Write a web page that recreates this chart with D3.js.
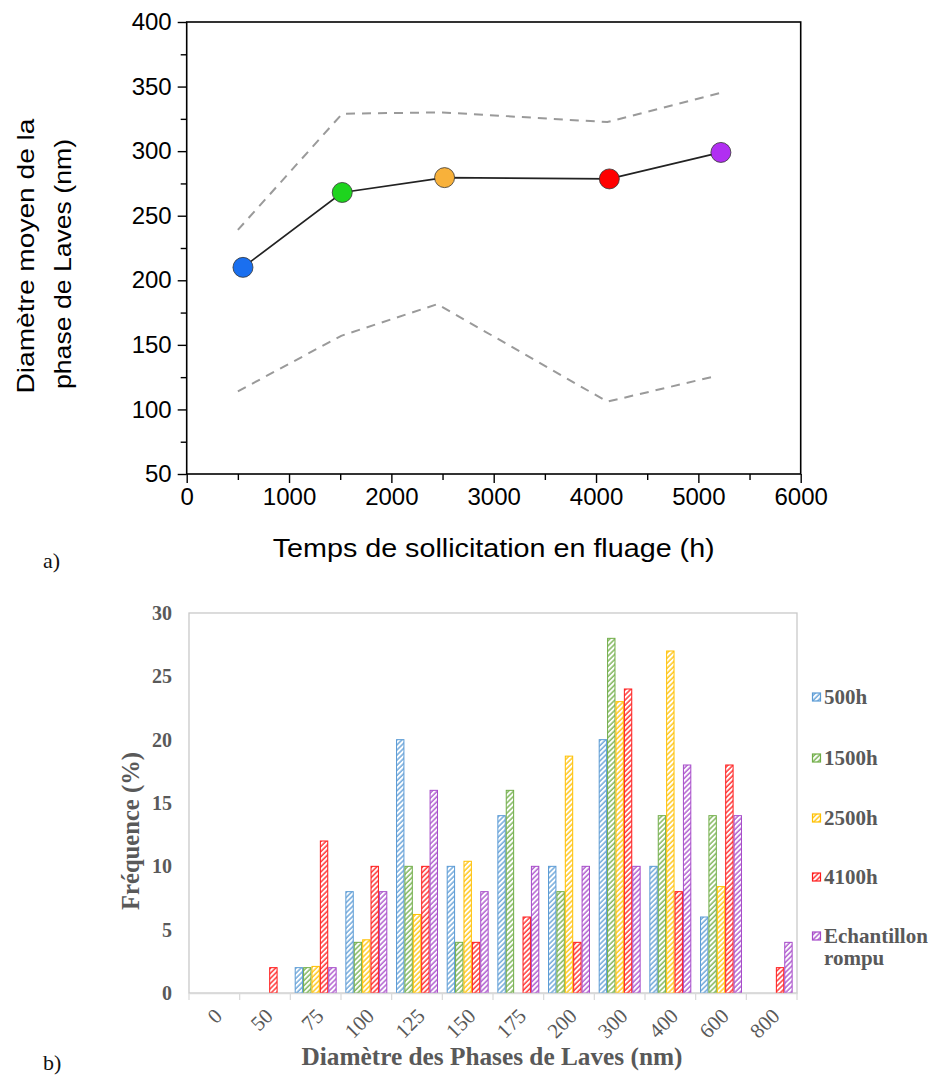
<!DOCTYPE html>
<html><head><meta charset="utf-8">
<script src="https://cdn.jsdelivr.net/npm/d3@7"></script>
<style>
html,body{margin:0;padding:0;background:#fff;}
svg{display:block;}
</style></head>
<body>
<svg id="c" width="934" height="1079"></svg>
<script>
// ---------- Data: chart a) ----------
const hours      = [550, 1520, 2520, 4130, 5220];
const meanDiam   = [210, 268, 279.5, 278.5, 299];
const pointColors= ["#1a6fef", "#1ed41e", "#f8b13a", "#ff0000", "#b12ff2"];
const upperHours = [500, 1520, 2500, 4110, 5210];
const upperDiam  = [239, 329, 330, 322.5, 345];
const lowerHours = [500, 1510, 2450, 4110, 5180];
const lowerDiam  = [114, 157, 181.5, 106, 126];
const xTicksA    = [0, 1000, 2000, 3000, 4000, 5000, 6000];
const yTicksA    = [50, 100, 150, 200, 250, 300, 350, 400];

// ---------- Data: chart b) ----------
const categories = ["0","50","75","100","125","150","175","200","300","400","600","800"];
const seriesNames= ["500h","1500h","2500h","4100h","Echantillon rompu"];
const seriesColors=["#5b9bd5","#70ad47","#ffc000","#ff1a1a","#a64ac9"];
const f500h      = [0, 0, 2, 8, 20, 10, 14, 10, 20, 10, 6, 0];
const f1500h     = [0, 0, 2, 4, 10, 4, 16, 8, 28, 14, 14, 0];
const f2500h     = [0, 0, 2.1, 4.2, 6.2, 10.4, 0, 18.7, 23, 27, 8.4, 0];
const f4100h     = [0, 2, 12, 10, 10, 4, 6, 4, 24, 8, 18, 2];
const fRompu     = [0, 0, 2, 8, 16, 8, 10, 10, 10, 18, 14, 4];
const yTicksB    = [0, 5, 10, 15, 20, 25, 30];

const svg = d3.select("#c");

// ================= Chart a) =================
const A = {l:186.7, r:800.7, t:22, b:474};
const xA = d3.scaleLinear().domain([0,6000]).range([A.l, A.r]);
const yA = d3.scaleLinear().domain([50,400]).range([A.b, A.t]);
const gA = svg.append("g");
const sans = "'Liberation Sans', Arial, sans-serif";

// minor ticks
const xMinor = d3.range(500, 6000, 1000);
const yMinor = d3.range(75, 400, 50);
gA.append("g").attr("transform",`translate(0,${A.b})`)
  .call(d3.axisBottom(xA).tickValues(xMinor).tickSize(6).tickFormat(""))
  .call(g=>g.select(".domain").remove())
  .selectAll("line").attr("stroke","#000").attr("stroke-width",1.4);
gA.append("g").attr("transform",`translate(${A.l},0)`)
  .call(d3.axisLeft(yA).tickValues(yMinor).tickSize(6).tickFormat(""))
  .call(g=>g.select(".domain").remove())
  .selectAll("line").attr("stroke","#000").attr("stroke-width",1.4);

const axB = gA.append("g").attr("transform",`translate(0,${A.b})`)
  .call(d3.axisBottom(xA).tickValues(xTicksA).tickSize(9).tickPadding(5).tickFormat(d3.format("d")));
const axL = gA.append("g").attr("transform",`translate(${A.l},0)`)
  .call(d3.axisLeft(yA).tickValues(yTicksA).tickSize(9).tickPadding(6).tickFormat(d3.format("d")));
[axB, axL].forEach(ax=>{
  ax.select(".domain").remove();
  ax.selectAll("line").attr("stroke","#000").attr("stroke-width",1.4);
  ax.selectAll("text").attr("font-family",sans).attr("font-size",24).attr("fill","#000");
});
// frame
gA.append("rect").attr("x",A.l).attr("y",A.t).attr("width",A.r-A.l).attr("height",A.b-A.t)
  .attr("fill","none").attr("stroke","#000").attr("stroke-width",1.6);

// dashed envelopes
const lineGen = d3.line();
gA.append("path").attr("d", lineGen(upperHours.map((h,i)=>[xA(h), yA(upperDiam[i])])))
  .attr("fill","none").attr("stroke","#9a9a9a").attr("stroke-width",2).attr("stroke-dasharray","9,7");
gA.append("path").attr("d", lineGen(lowerHours.map((h,i)=>[xA(h), yA(lowerDiam[i])])))
  .attr("fill","none").attr("stroke","#9a9a9a").attr("stroke-width",2).attr("stroke-dasharray","9,7");
// mean line
gA.append("path").attr("d", lineGen(hours.map((h,i)=>[xA(h), yA(meanDiam[i])])))
  .attr("fill","none").attr("stroke","#222").attr("stroke-width",1.7);
gA.selectAll("circle.pt").data(hours).join("circle")
  .attr("cx",(d)=>xA(d)).attr("cy",(d,i)=>yA(meanDiam[i])).attr("r",10)
  .attr("fill",(d,i)=>pointColors[i]).attr("stroke","#333").attr("stroke-width",0.8);

// titles
gA.append("text").attr("x",(A.l+A.r)/2).attr("y",557).attr("text-anchor","middle")
  .attr("font-family",sans).attr("font-size",25).attr("textLength",442).attr("lengthAdjust","spacingAndGlyphs")
  .text("Temps de sollicitation en fluage (h)");
gA.append("text").attr("transform","translate(34,256) rotate(-90)").attr("text-anchor","middle")
  .attr("font-family",sans).attr("font-size",24).attr("textLength",275).attr("lengthAdjust","spacingAndGlyphs")
  .text("Diamètre moyen de la");
gA.append("text").attr("transform","translate(71,264) rotate(-90)").attr("text-anchor","middle")
  .attr("font-family",sans).attr("font-size",24).attr("textLength",250).attr("lengthAdjust","spacingAndGlyphs")
  .text("phase de Laves (nm)");
svg.append("text").attr("x",43).attr("y",568).attr("font-family","'Liberation Serif', 'Times New Roman', serif")
  .attr("font-size",22).attr("fill","#111").text("a)");
svg.append("text").attr("x",43).attr("y",1070).attr("font-family","'Liberation Serif', 'Times New Roman', serif")
  .attr("font-size",22).attr("fill","#111").text("b)");

// ================= Chart b) =================
const B = {l:189, r:797, t:613, b:993};
const serif = "'Liberation Serif', 'Times New Roman', serif";
const grey = "#595959";
const allSeries = [f500h, f1500h, f2500h, f4100h, fRompu];
const x0 = d3.scaleBand().domain(categories).range([B.l, B.r]).padding(0);
const x1 = d3.scaleBand().domain(d3.range(seriesNames.length)).range([0, x0.bandwidth()]).paddingInner(0).paddingOuter(0.52);
const yB = d3.scaleLinear().domain([0,30]).range([B.b, B.t]);
const gB = svg.append("g");

// hatch patterns
const defs = svg.append("defs");
seriesColors.forEach((c,i)=>{
  const p = defs.append("pattern").attr("id","hatch"+i).attr("patternUnits","userSpaceOnUse")
    .attr("width",3.6).attr("height",3.6).attr("patternTransform","rotate(45)");
  p.append("rect").attr("width",3.6).attr("height",3.6).attr("fill","#fff");
  p.append("line").attr("x1",1).attr("y1",0).attr("x2",1).attr("y2",3.6)
    .attr("stroke",c).attr("stroke-width",1.3);
});

// frame
gB.append("rect").attr("x",B.l).attr("y",B.t).attr("width",B.r-B.l).attr("height",B.b-B.t)
  .attr("fill","none").attr("stroke","#c9c9c9").attr("stroke-width",1.3);

// bars
categories.forEach((cat,ci)=>{
  allSeries.forEach((s,si)=>{
    const v = s[ci];
    if(v<=0) return;
    gB.append("rect")
      .attr("x", x0(cat)+x1(si)+0.5).attr("y", yB(v))
      .attr("width", x1.bandwidth()-1).attr("height", yB(0)-yB(v))
      .attr("fill","url(#hatch"+si+")").attr("stroke",seriesColors[si]).attr("stroke-width",1);
  });
});

// x axis
const xAxB = gB.append("g").attr("transform",`translate(0,${B.b})`)
  .call(d3.axisBottom(x0).tickSize(0).tickFormat(""));
xAxB.select(".domain").attr("stroke","#d9d9d9").attr("stroke-width",1.3);
gB.append("g").selectAll("line").data(d3.range(categories.length+1)).join("line")
  .attr("x1",i=>B.l+i*x0.step()).attr("x2",i=>B.l+i*x0.step())
  .attr("y1",B.b).attr("y2",B.b+7).attr("stroke","#d9d9d9").attr("stroke-width",1.2);
gB.append("g").selectAll("text").data(categories).join("text")
  .attr("transform",d=>`translate(${x0(d)+x0.bandwidth()/2+4},${B.b+19}) rotate(-45)`)
  .attr("text-anchor","end").attr("dy","0.35em")
  .attr("font-family",serif).attr("font-size",21).attr("fill",grey).text(d=>d);

// y axis labels
const yAxB = gB.append("g").attr("transform",`translate(${B.l},0)`)
  .call(d3.axisLeft(yB).tickValues(yTicksB).tickSize(0).tickPadding(17));
yAxB.select(".domain").remove();
yAxB.selectAll("text").attr("font-family",serif).attr("font-size",20).attr("font-weight","bold").attr("fill",grey);

// titles
gB.append("text").attr("transform","translate(139,831) rotate(-90)").attr("text-anchor","middle")
  .attr("font-family",serif).attr("font-weight","bold").attr("font-size",25).attr("fill",grey)
  .attr("textLength",158).attr("lengthAdjust","spacingAndGlyphs").text("Fréquence (%)");
gB.append("text").attr("x",492).attr("y",1065).attr("text-anchor","middle")
  .attr("font-family",serif).attr("font-weight","bold").attr("font-size",25).attr("fill",grey)
  .attr("textLength",381).attr("lengthAdjust","spacingAndGlyphs").text("Diamètre des Phases de Laves (nm)");

// legend
const legY = [704, 765, 825, 884, 943];
seriesNames.forEach((n,i)=>{
  const g = gB.append("g");
  g.append("rect").attr("x",812.5).attr("y",legY[i]-11).attr("width",8).attr("height",8)
    .attr("fill","url(#hatch"+i+")").attr("stroke",seriesColors[i]).attr("stroke-width",1.2);
  const t = g.append("text").attr("x",824).attr("y",legY[i])
    .attr("font-family",serif).attr("font-weight","bold").attr("font-size",21).attr("fill",grey);
  const parts = n==="Echantillon rompu" ? ["Echantillon","rompu"] : [n];
  parts.forEach((p,k)=>t.append("tspan").attr("x",824).attr("dy",k?22:0).text(p));
});
</script>
</body></html>
